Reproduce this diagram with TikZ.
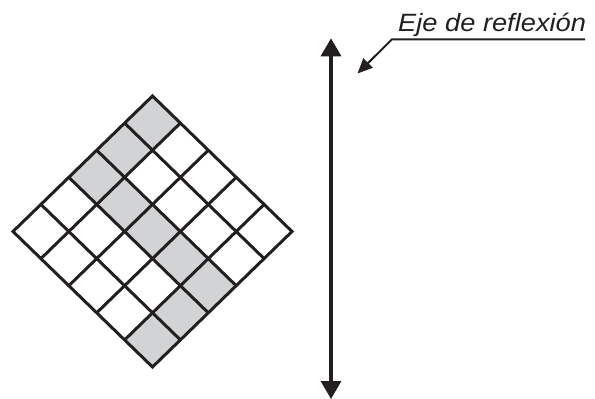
\documentclass[tikz,border=0pt]{standalone}
\usepackage{fontspec}
\setmainfont{Liberation Sans}
\usetikzlibrary{arrows.meta}
\definecolor{ink}{RGB}{35,31,32}
\definecolor{cellgray}{RGB}{209,211,212}
\begin{document}
\begin{tikzpicture}[x=1pt,y=-1pt,
  gridline/.style={draw=ink,line width=3pt,line join=miter},
  shadedcell/.style={fill=cellgray},
  axisline/.style={draw=ink,line width=3.3pt,{Triangle[length=18pt,width=20pt]}-{Triangle[length=18pt,width=20pt]}},
  leader/.style={draw=ink,line width=2pt,-{Triangle[length=15pt,width=13pt]}},
  lbl/.style={inner sep=0pt,anchor=base west,font=\itshape\fontsize{25}{30}\selectfont,text=ink}]
\useasboundingbox (0,0) rectangle (595,399);
% rotated 5x5 grid
\begin{scope}[shift={(152.5,96)},x={(27.9pt,-27.1pt)},y={(-27.9pt,-27.1pt)}]
  \foreach \i/\j in {0/0,0/1,0/2,1/2,2/2,3/2,4/2,4/3,4/4}{
    \fill[shadedcell] (\i,\j) -- ++(1,0) -- ++(0,1) -- ++(-1,0) -- cycle;
  }
  \foreach \k in {1,2,3,4}{
    \draw[gridline] (\k,0) -- (\k,5);
    \draw[gridline] (0,\k) -- (5,\k);
  }
  \draw[gridline] (0,0) -- (5,0) -- (5,5) -- (0,5) -- cycle;
\end{scope}
% reflection axis
\coordinate (axtop) at (331,38.3);
\coordinate (axbot) at (331,399);
\draw[axisline] (axtop) -- (axbot);
% label with leader
\node[lbl] (label) at (398,31) {\scalebox{1.09}[1]{Eje de reflexión}};
\coordinate (ulL) at (392,39.3);
\coordinate (ulR) at (585,39.3);
\coordinate (ptr) at (357.5,73.5);
\draw[leader] (ulR) -- (ulL) -- (ptr);
\end{tikzpicture}
\end{document}
